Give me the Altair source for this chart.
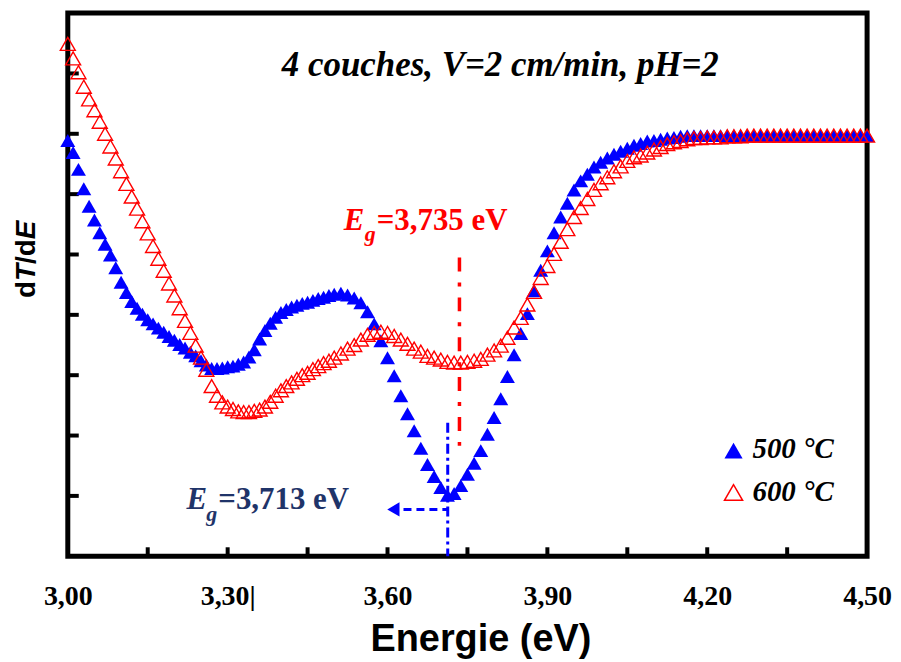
import altair as alt
import pandas as pd

# ---------------- data ----------------
ENERGY_EV = [
    3.00, 3.01, 3.02, 3.03, 3.04, 3.05, 3.06, 3.07, 3.08, 3.09,
    3.10, 3.11, 3.12, 3.13, 3.14, 3.15, 3.16, 3.17, 3.18, 3.19,
    3.20, 3.21, 3.22, 3.23, 3.24, 3.25, 3.26, 3.27, 3.28, 3.29,
    3.30, 3.31, 3.32, 3.33, 3.34, 3.35, 3.36, 3.37, 3.38, 3.39,
    3.40, 3.41, 3.42, 3.43, 3.44, 3.45, 3.46, 3.47, 3.48, 3.49,
    3.50,
    3.5125, 3.5250, 3.5375, 3.5500, 3.5625, 3.5750, 3.5875, 3.6000,
    3.6125, 3.6250, 3.6375, 3.6500, 3.6625, 3.6750, 3.6875, 3.7000,
    3.7125, 3.7250, 3.7375, 3.7500, 3.7625, 3.7750, 3.7875, 3.8000,
    3.8125, 3.8250, 3.8375, 3.8500, 3.8625, 3.8750, 3.8875, 3.9000,
    3.9125, 3.9250, 3.9375, 3.9500, 3.9625, 3.9750, 3.9875, 4.0000,
    4.0125, 4.0250, 4.0375, 4.0500, 4.0625, 4.0750, 4.0875, 4.1000,
    4.1125, 4.1250, 4.1375, 4.1500, 4.1625, 4.1750, 4.1875, 4.2000,
    4.2125, 4.2250, 4.2375, 4.2500, 4.2625, 4.2750, 4.2875, 4.3000,
    4.3125, 4.3250, 4.3375, 4.3500, 4.3625, 4.3750, 4.3875, 4.4000,
    4.4125, 4.4250, 4.4375, 4.4500, 4.4625, 4.4750, 4.4875, 4.5000,
]

DTDE_500C = [
    6.89, 6.69, 6.41, 6.09, 5.80, 5.57, 5.36, 5.17, 4.99, 4.78,
    4.54, 4.37, 4.22, 4.11, 4.01, 3.92, 3.85, 3.78, 3.71, 3.64,
    3.58, 3.51, 3.45, 3.38, 3.32, 3.24, 3.17, 3.11, 3.11, 3.12,
    3.14, 3.15, 3.18, 3.22, 3.30, 3.42, 3.60, 3.74, 3.86, 3.96,
    4.04, 4.09, 4.13, 4.16, 4.19, 4.21, 4.24, 4.27, 4.29, 4.32,
    4.34,
    4.36, 4.33, 4.28, 4.20, 4.05, 3.85, 3.57, 3.29,
    2.99, 2.66, 2.36, 2.08, 1.79, 1.52, 1.32, 1.14,
    1.01, 1.04, 1.17, 1.36, 1.54, 1.75, 2.02, 2.30,
    2.61, 2.98, 3.34, 3.69, 4.02, 4.40, 4.74, 5.06,
    5.36, 5.62, 5.85, 6.07, 6.22, 6.33, 6.45, 6.53,
    6.60, 6.66, 6.71, 6.76, 6.81, 6.84, 6.88, 6.89,
    6.91, 6.93, 6.94, 6.96, 6.97, 6.97, 6.97, 6.97,
    6.97, 6.97, 6.97, 6.97, 6.97, 6.97, 6.97, 6.97,
    6.97, 6.97, 6.97, 6.97, 6.97, 6.97, 6.97, 6.97,
    6.97, 6.97, 6.97, 6.97, 6.97, 6.97, 6.97, 6.97,
]

DTDE_600C = [
    8.49, 8.25, 8.02, 7.78, 7.57, 7.39, 7.20, 7.00, 6.79, 6.59,
    6.38, 6.17, 5.96, 5.76, 5.55, 5.35, 5.14, 4.93, 4.73, 4.52,
    4.32, 4.11, 3.90, 3.70, 3.49, 3.29, 3.09, 2.82, 2.66, 2.55,
    2.48, 2.44, 2.40, 2.39, 2.39, 2.41, 2.43, 2.48, 2.56, 2.66,
    2.75, 2.82, 2.88, 2.94, 3.00, 3.04, 3.10, 3.15, 3.20, 3.24,
    3.29,
    3.36, 3.44, 3.50, 3.59, 3.67, 3.70, 3.72, 3.70,
    3.65, 3.59, 3.52, 3.44, 3.39, 3.32, 3.29, 3.26,
    3.22, 3.21, 3.21, 3.22, 3.24, 3.27, 3.34, 3.41,
    3.49, 3.62, 3.79, 3.95, 4.17, 4.38, 4.61, 4.81,
    5.01, 5.21, 5.42, 5.62, 5.77, 5.92, 6.07, 6.18,
    6.28, 6.38, 6.46, 6.55, 6.61, 6.64, 6.69, 6.74,
    6.78, 6.83, 6.86, 6.88, 6.91, 6.93, 6.93, 6.94,
    6.94, 6.94, 6.96, 6.96, 6.96, 6.97, 6.97, 6.97,
    6.97, 6.97, 6.97, 6.97, 6.97, 6.97, 6.97, 6.97,
    6.97, 6.97, 6.97, 6.97, 6.97, 6.97, 6.97, 6.97,
]

X_LABEL_VALUES = [3.0, 3.3, 3.6, 3.9, 4.2, 4.5]
X_MINOR_TICKS = [3.15, 3.30, 3.45, 3.60, 3.75, 3.90, 4.05, 4.20, 4.35]
Y_TICKS = [1, 2, 3, 4, 5, 6, 7, 8]

EG_500 = 3.713
EG_600 = 3.735
EG_600_LINE = [4.95, 1.72]      # extent of the red dash-dot marker line
EG_500_LINE = [2.21, 0.0]       # extent of the blue dashed marker line
EG_500_ARROW = [3.630, 0.776]   # start of the arrow line (x) and its level (y)
ARROW_HEAD_E = 3.611

# ---------------- styling ----------------
W, H = 802, 545
BLUE = "#0000FF"
RED = "#FF0000"
NAVY = "#1F3469"
SERIF = "Liberation Serif"
SANS = "Liberation Sans"

xs = alt.Scale(domain=[3.0, 4.5], nice=False, zero=False)
ys = alt.Scale(domain=[0, 9], nice=False, zero=False)

x_axis = alt.Axis(
    values=X_LABEL_VALUES,
    labelExpr="abs(datum.value - 3.3) < 0.001 ? '3,30|' : replace(format(datum.value, '.2f'), '.', ',')",
    domain=False, ticks=False, grid=False,
    labelFont=SERIF, labelFontWeight="bold", labelFontSize=28, labelColor="black",
    labelPadding=48, labelBaseline="alphabetic", labelFlush=False, labelOverlap=False,
    labelBound=False,
    title="Energie (eV)", titleFont=SANS, titleFontWeight="bold", titleFontSize=38,
    titleColor="black", titleX=414, titleY=95, titleBaseline="alphabetic",
)


def X(field="E"):
    return alt.X(f"{field}:Q", scale=xs, axis=x_axis)


def Y(field="v"):
    return alt.Y(f"{field}:Q", scale=ys, axis=None)


df500 = pd.DataFrame({"E": ENERGY_EV, "v": DTDE_500C})
df600 = pd.DataFrame({"E": ENERGY_EV, "v": DTDE_600C})
dummy = pd.DataFrame({"k": [0]})

pts500 = alt.Chart(df500).mark_point(
    shape="triangle-up", filled=True, color=BLUE, size=225, opacity=1
).encode(x=X(), y=Y())

pts600 = alt.Chart(df600).mark_point(
    shape="triangle-up", filled=False, color=RED, size=225, opacity=1, strokeWidth=1.4
).encode(x=X(), y=Y())

# inward ticks
xt = alt.Chart(pd.DataFrame({"E": X_MINOR_TICKS})).mark_rule(
    color="black", strokeWidth=4
).encode(x=X(), y=alt.value(H), y2=alt.value(H - 9))
yt = alt.Chart(pd.DataFrame({"v": Y_TICKS})).mark_rule(
    color="black", strokeWidth=4
).encode(y=Y(), x=alt.value(0), x2=alt.value(11))

# Eg marker lines
red_line = alt.Chart(pd.DataFrame({"E": [EG_600], "v": [EG_600_LINE[0]], "v2": [EG_600_LINE[1]]})).mark_rule(
    color=RED, strokeWidth=3.5, strokeDash=[14, 11, 4, 11]
).encode(x=X(), y=Y(), y2="v2:Q")

blue_vline = alt.Chart(pd.DataFrame({"E": [EG_500], "v": [EG_500_LINE[0]], "v2": [EG_500_LINE[1]]})).mark_rule(
    color=BLUE, strokeWidth=3, strokeDash=[10, 4, 3, 4]
).encode(x=X(), y=Y(), y2="v2:Q")

blue_hline = alt.Chart(pd.DataFrame({"E": [EG_500_ARROW[0]], "E2": [EG_500], "v": [EG_500_ARROW[1]]})).mark_rule(
    color=BLUE, strokeWidth=3, strokeDash=[8, 5]
).encode(x=X(), x2="E2:Q", y=Y())

arrow_head = alt.Chart(pd.DataFrame({"E": [ARROW_HEAD_E], "v": [EG_500_ARROW[1]]})).mark_point(
    shape="triangle-left", filled=True, color=BLUE, size=200, opacity=1
).encode(x=X(), y=Y())


def txt(s, x, y, size, color="black", font=SERIF, weight="bold", style="normal",
        align="left", angle=0, baseline="alphabetic"):
    return alt.Chart(dummy).mark_text(
        font=font, fontSize=size, fontWeight=weight, fontStyle=style, color=color,
        align=align, baseline=baseline, angle=angle
    ).encode(x=alt.value(x), y=alt.value(y), text=alt.value(s))


texts = [
    # title
    txt("4 couches, V=2 cm/min, pH=2", 434, 63, 35, style="italic", align="center"),
    # red Eg
    txt("E", 277, 218, 31, color=RED, style="italic"),
    txt("g", 298, 229, 22, color=RED, style="italic"),
    txt("=3,735 eV", 310, 218, 31, color=RED),
    # blue Eg
    txt("E", 119, 498, 31, color=NAVY, style="italic"),
    txt("g", 139, 510, 22, color=NAVY, style="italic"),
    txt("=3,713 eV", 151, 498, 31, color=NAVY),
    # legend labels
    txt("500 °C", 687, 446, 29, style="italic"),
    txt("600 °C", 687, 490, 29, style="italic"),
    # y title, rotated pieces: d T / d E
    txt("d", -33, 286, 28, font=SANS, angle=270),
    txt("T", -33, 268.9, 28, font=SANS, style="italic", angle=270),
    txt("/d", -33, 251.8, 28, font=SANS, angle=270),
    txt("E", -33, 226.9, 28, font=SANS, style="italic", angle=270),
]

leg500 = alt.Chart(dummy).mark_point(
    shape="triangle-up", filled=True, color=BLUE, size=330, opacity=1
).encode(x=alt.value(668), y=alt.value(439))
leg600 = alt.Chart(dummy).mark_point(
    shape="triangle-up", filled=False, color=RED, size=330, opacity=1, strokeWidth=1.5
).encode(x=alt.value(668), y=alt.value(481))

chart = alt.layer(
    xt, yt, red_line, blue_vline, blue_hline, arrow_head,
    pts500, pts600, leg500, leg600, *texts
).properties(
    width=W, height=H,
    autosize=alt.AutoSizeParams(type="none"),
    padding={"left": 60, "top": 4, "right": 26, "bottom": 104},
    background="white",
).configure_view(stroke="black", strokeWidth=5)

chart.save("out.html", embed_options={"renderer": "svg", "actions": False})
